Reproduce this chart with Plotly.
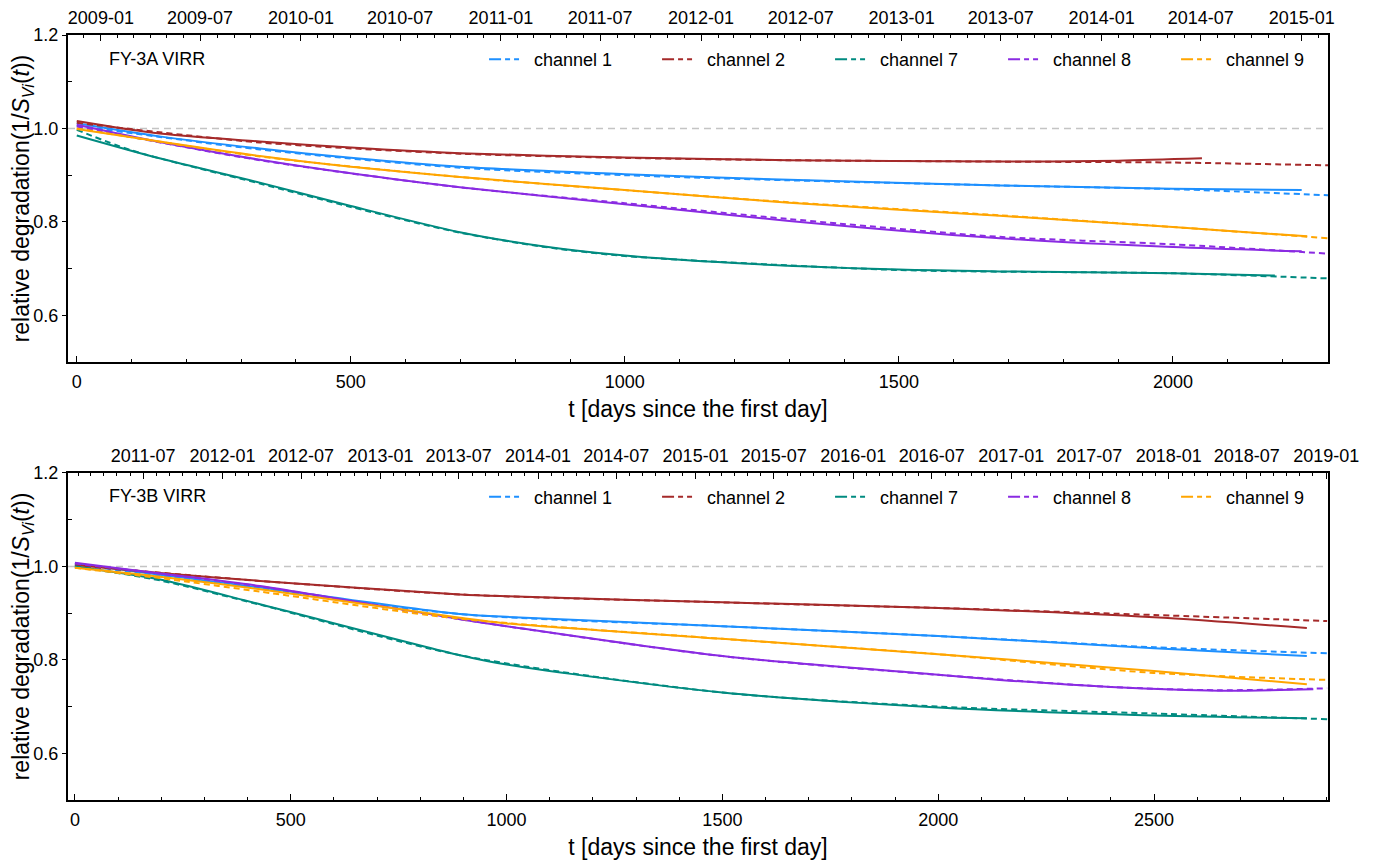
import plotly.graph_objects as go
import pandas as pd

# ---------------- data ----------------
channels = ["channel 1", "channel 2", "channel 7", "channel 8", "channel 9"]
colors = ["#1E90FF", "#A52A2A", "#008B80", "#8A2BE2", "#FFA500"]

# FY-3A VIRR  (solid = observed fit, dashed = model)
a_solid_days = {
    "channel 1": [0, 151, 334, 500, 699, 1000, 1300, 1684, 2000, 2235],
    "channel 2": [0, 151, 334, 500, 699, 1000, 1300, 1684, 1900, 2053],
    "channel 7": [0, 151, 334, 500, 699, 850, 1000, 1200, 1500, 1684, 2000, 2186],
    "channel 8": [0, 151, 334, 500, 699, 1000, 1300, 1684, 2000, 2235],
    "channel 9": [0, 151, 334, 500, 699, 1000, 1300, 1684, 2000, 2245],
}
a_solid_vals = {
    "channel 1": [1.011, 0.983, 0.957, 0.937, 0.918, 0.902, 0.890, 0.878, 0.871, 0.868],
    "channel 2": [1.016, 0.989, 0.972, 0.959, 0.947, 0.938, 0.932, 0.929, 0.931, 0.936],
    "channel 7": [0.985, 0.936, 0.884, 0.834, 0.778, 0.748, 0.728, 0.712, 0.698, 0.694, 0.690, 0.685],
    "channel 8": [1.008, 0.971, 0.933, 0.904, 0.874, 0.838, 0.802, 0.765, 0.746, 0.737],
    "channel 9": [0.999, 0.972, 0.941, 0.918, 0.896, 0.868, 0.841, 0.813, 0.789, 0.769],
}
a_dash_days = {
    "channel 1": [0, 334, 699, 1000, 1300, 1684, 2000, 2283],
    "channel 2": [0, 334, 699, 1000, 1300, 1684, 2000, 2283],
    "channel 7": [0, 100, 334, 500, 699, 850, 1000, 1500, 2000, 2283],
    "channel 8": [0, 334, 699, 1000, 1300, 1684, 2000, 2283],
    "channel 9": [0, 334, 699, 1000, 1300, 1684, 2000, 2283],
}
a_dash_vals = {
    "channel 1": [1.006, 0.955, 0.916, 0.900, 0.889, 0.878, 0.870, 0.857],
    "channel 2": [1.012, 0.970, 0.946, 0.937, 0.932, 0.929, 0.927, 0.921],
    "channel 7": [0.997, 0.953, 0.882, 0.832, 0.777, 0.747, 0.727, 0.697, 0.690, 0.679],
    "channel 8": [1.004, 0.932, 0.874, 0.840, 0.806, 0.768, 0.752, 0.732],
    "channel 9": [1.000, 0.940, 0.896, 0.868, 0.842, 0.814, 0.789, 0.765],
}

# FY-3B VIRR
b_solid_days = {
    "channel 1": [0, 197, 429, 892, 1000, 1500, 2000, 2500, 2854],
    "channel 2": [0, 197, 429, 892, 1000, 1500, 2000, 2500, 2854],
    "channel 7": [0, 197, 429, 892, 1000, 1500, 2000, 2500, 2854],
    "channel 8": [0, 197, 429, 892, 1000, 1500, 2000, 2143, 2400, 2650, 2869],
    "channel 9": [0, 197, 429, 892, 1000, 1500, 2000, 2500, 2854],
}
b_solid_vals = {
    "channel 1": [1.006, 0.982, 0.955, 0.898, 0.892, 0.872, 0.851, 0.825, 0.808],
    "channel 2": [1.003, 0.986, 0.969, 0.940, 0.936, 0.923, 0.911, 0.891, 0.868],
    "channel 7": [1.000, 0.972, 0.919, 0.810, 0.790, 0.730, 0.698, 0.681, 0.675],
    "channel 8": [1.008, 0.985, 0.958, 0.887, 0.872, 0.808, 0.768, 0.757, 0.742, 0.734, 0.737],
    "channel 9": [0.997, 0.978, 0.951, 0.890, 0.878, 0.845, 0.812, 0.776, 0.748],
}
b_dash_days = {
    "channel 1": [0, 429, 892, 1500, 2000, 2500, 2901],
    "channel 2": [0, 429, 892, 1500, 2000, 2500, 2901],
    "channel 7": [0, 197, 429, 892, 1500, 2000, 2500, 2901],
    "channel 8": [0, 429, 892, 1500, 2000, 2400, 2650, 2901],
    "channel 9": [0, 197, 429, 892, 1500, 2000, 2500, 2901],
}
b_dash_vals = {
    "channel 1": [1.004, 0.953, 0.898, 0.872, 0.851, 0.827, 0.814],
    "channel 2": [1.002, 0.969, 0.940, 0.923, 0.911, 0.896, 0.883],
    "channel 7": [1.000, 0.970, 0.918, 0.810, 0.730, 0.700, 0.685, 0.673],
    "channel 8": [1.006, 0.957, 0.887, 0.808, 0.768, 0.742, 0.735, 0.739],
    "channel 9": [0.997, 0.975, 0.946, 0.888, 0.845, 0.812, 0.772, 0.757],
}

panel_titles = ["FY-3A VIRR", "FY-3B VIRR"]
day0 = ["2008-11-18", "2011-01-24"]
day_ranges = [[-16, 2283], [-16, 2903]]
date_tick0 = ["2009-01-01", "2011-07-01"]

# ---------------- figure ----------------
FONT = "Liberation Sans, Arial, sans-serif"
fig = go.Figure()

panels = [
    (a_solid_days, a_solid_vals, a_dash_days, a_dash_vals, "x", "y", "legend", 0),
    (b_solid_days, b_solid_vals, b_dash_days, b_dash_vals, "x3", "y2", "legend2", 1),
]

for (sd, sv, dd, dv, xa, ya, lg, pi) in panels:
    # reference line at 1.0
    fig.add_trace(go.Scatter(x=day_ranges[pi], y=[1.0, 1.0], mode="lines", xaxis=xa, yaxis=ya,
                             line=dict(color="#c4c4c4", width=1.5, dash="7px,5px"),
                             showlegend=False, hoverinfo="skip"))
    for ch, col in zip(channels, colors):
        fig.add_trace(go.Scatter(x=sd[ch], y=sv[ch], mode="lines", xaxis=xa, yaxis=ya,
                                 line=dict(color=col, width=2, shape="spline", smoothing=0.8),
                                 showlegend=False, hoverinfo="skip"))
        fig.add_trace(go.Scatter(x=dd[ch], y=dv[ch], mode="lines", xaxis=xa, yaxis=ya,
                                 line=dict(color=col, width=2, dash="6px,4px", shape="spline", smoothing=0.8),
                                 showlegend=False, hoverinfo="skip"))
    # legend-only entries showing solid + dashed
    for ch, col in zip(channels, colors):
        fig.add_trace(go.Scatter(x=[None], y=[None], mode="lines", xaxis=xa, yaxis=ya,
                                 name=ch, legend=lg,
                                 line=dict(color=col, width=2, dash="12px,4px,5px,4px,5px,200px")))

# dummy traces for the date axes
for i, (xa, ya) in enumerate([("x2", "y"), ("x4", "y2")]):
    fig.add_trace(go.Scatter(x=[day0[i]], y=[None], xaxis=xa, yaxis=ya, mode="lines",
                             showlegend=False, hoverinfo="skip"))

def date_range(i):
    d0 = pd.Timestamp(day0[i])
    r = day_ranges[i]
    return [(d0 + pd.Timedelta(days=r[0])).strftime("%Y-%m-%d %H:%M"),
            (d0 + pd.Timedelta(days=r[1])).strftime("%Y-%m-%d %H:%M")]

tickfont = dict(family=FONT, size=18, color="black")
titlefont = dict(family=FONT, size=23, color="black")

top_dom = [0.5725, 1.0]
bot_dom = [0.0, 0.4275]

def days_axis(rng, anchor):
    return dict(range=rng, anchor=anchor, showgrid=False, zeroline=False, automargin=False,
                showline=True, linecolor="black", linewidth=2, mirror=True,
                ticks="inside", ticklen=6, tickwidth=1.2, tickcolor="black",
                dtick=500, tick0=0, tickfont=tickfont, ticklabelstandoff=2,
                minor=dict(ticks="inside", ticklen=3, dtick=100, tickcolor="black", tickwidth=1),
                title=dict(text="t [days since the first day]", font=titlefont, standoff=10))

def date_axis(i, overlay, anchor):
    return dict(type="date", overlaying=overlay, side="top", anchor=anchor, range=date_range(i),
                showgrid=False, zeroline=False, showline=False, automargin=False,
                ticks="inside", ticklen=6, tickwidth=1.2, tickcolor="black",
                dtick="M6", tick0=date_tick0[i], tickformat="%Y-%m", tickfont=tickfont,
                ticklabelstandoff=6,
                minor=dict(ticks="inside", ticklen=3, dtick="M1", tickcolor="black", tickwidth=1))

def y_axis(dom, anchor):
    return dict(domain=dom, anchor=anchor, range=[0.5, 1.2], showgrid=False, zeroline=False,
                automargin=False,
                showline=True, linecolor="black", linewidth=2, mirror=True,
                ticks="outside", ticklen=4, tickwidth=1.2, tickcolor="black",
                tickvals=[0.6, 0.8, 1.0, 1.2], ticktext=["0.6", "0.8", "1.0", "1.2"],
                tickfont=tickfont,
                minor=dict(ticks="inside", ticklen=4, tickvals=[0.7, 0.9, 1.1], tickcolor="black", tickwidth=1),
                title=dict(text="relative degradation(1/<i>S</i><sub><i>Vi</i></sub>(<i>t</i>))",
                           font=titlefont, standoff=0))

legend_common = dict(orientation="h", xanchor="left", yanchor="middle",
                     font=dict(family=FONT, size=18, color="black"),
                     bgcolor="rgba(0,0,0,0)", entrywidth=118, itemwidth=40,
                     tracegroupgap=0)

# the page body adds an 8px offset; margins compensate so the plot lands where the reference has it
fig.update_layout(
    width=1377, height=853,
    margin=dict(l=60, r=57, t=27, b=61, autoexpand=False),
    plot_bgcolor="white", paper_bgcolor="white",
    font=dict(family=FONT, size=18, color="black"),
    xaxis=days_axis(day_ranges[0], "y"),
    xaxis2=date_axis(0, "x", "y"),
    xaxis3=days_axis(day_ranges[1], "y2"),
    xaxis4=date_axis(1, "x3", "y2"),
    yaxis=y_axis(top_dom, "x"),
    yaxis2=y_axis(bot_dom, "x3"),
    legend=dict(x=0.3302, y=0.968, **legend_common),
    legend2=dict(x=0.3302, y=0.396, **legend_common),
    annotations=[
        dict(text=panel_titles[0], xref="paper", yref="paper", x=0.0310, y=0.969,
             xanchor="left", yanchor="middle", showarrow=False,
             font=dict(family=FONT, size=18, color="black")),
        dict(text=panel_titles[1], xref="paper", yref="paper", x=0.0310, y=0.397,
             xanchor="left", yanchor="middle", showarrow=False,
             font=dict(family=FONT, size=18, color="black")),
    ],
)

fig.write_html("out.html")
